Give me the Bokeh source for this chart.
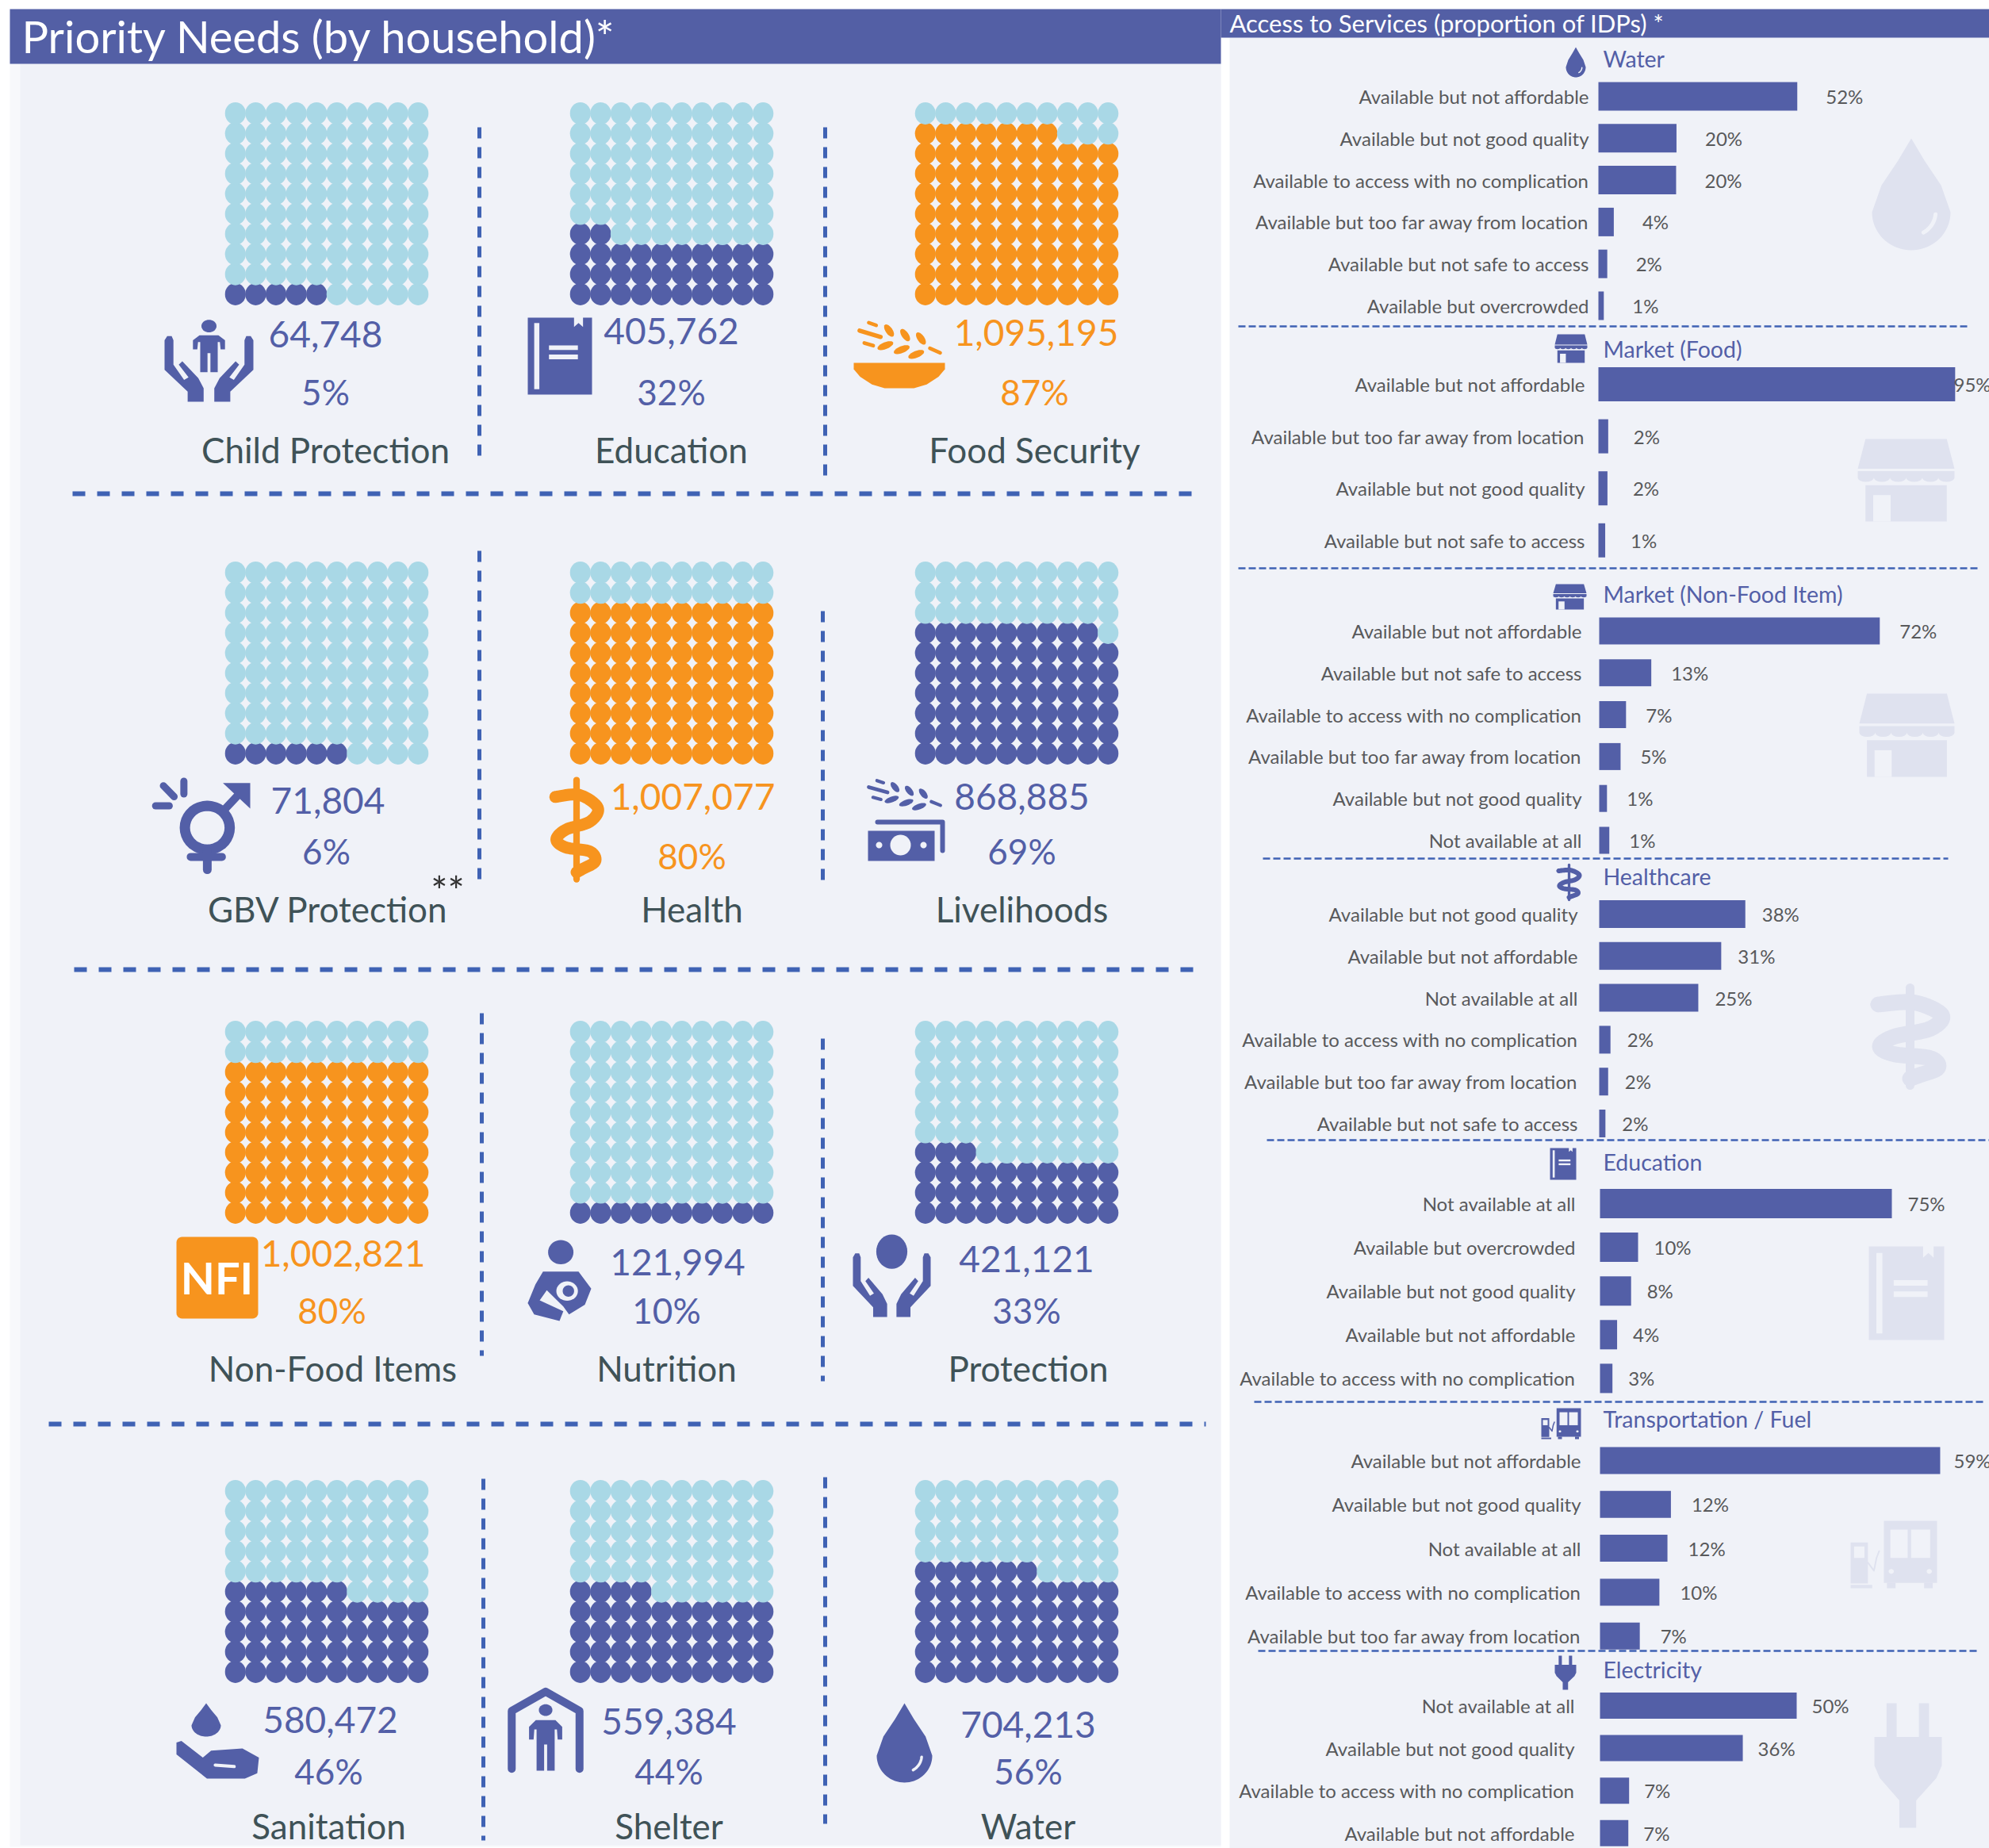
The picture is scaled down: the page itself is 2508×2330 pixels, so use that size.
import math
from bokeh.plotting import figure
from bokeh.models import Range1d
from bokeh.embed import file_html
from bokeh.resources import INLINE
from bokeh.core.properties import value

# ---------------- data ----------------
needs = ["Child Protection", "Education", "Food Security",
         "GBV Protection", "Health", "Livelihoods",
         "Non-Food Items", "Nutrition", "Protection",
         "Sanitation", "Shelter", "Water"]
households = [64748, 405762, 1095195, 71804, 1007077, 868885,
              1002821, 121994, 421121, 580472, 559384, 704213]
need_pct = [5, 32, 87, 6, 80, 69, 80, 10, 33, 46, 44, 56]

service_titles = ["Water", "Market (Food)", "Market (Non-Food Item)", "Healthcare",
                  "Education", "Transportation / Fuel", "Electricity"]
water_cats = ["Available but not affordable", "Available but not good quality",
              "Available to access with no complication", "Available but too far away from location",
              "Available but not safe to access", "Available but overcrowded"]
water_vals = [51.7, 20.3, 20.2, 4.0, 2.3, 1.4]
water_lbls = [52, 20, 20, 4, 2, 1]
food_cats = ["Available but not affordable", "Available but too far away from location",
             "Available but not good quality", "Available but not safe to access"]
food_vals = [94.7, 2.6, 2.4, 1.8]
food_lbls = [95, 2, 2, 1]
nfi_cats = ["Available but not affordable", "Available but not safe to access",
            "Available to access with no complication", "Available but too far away from location",
            "Available but not good quality", "Not available at all"]
nfi_vals = [72.2, 13.4, 6.9, 5.5, 2.0, 2.6]
nfi_lbls = [72, 13, 7, 5, 1, 1]
health_cats = ["Available but not good quality", "Available but not affordable", "Not available at all",
               "Available to access with no complication", "Available but too far away from location",
               "Available but not safe to access"]
health_vals = [37.6, 31.4, 25.5, 2.9, 2.3, 1.6]
health_lbls = [38, 31, 25, 2, 2, 2]
edu_cats = ["Not available at all", "Available but overcrowded", "Available but not good quality",
            "Available but not affordable", "Available to access with no complication"]
edu_vals = [75.1, 9.8, 8.0, 4.4, 3.2]
edu_lbls = [75, 10, 8, 4, 3]
trans_cats = ["Available but not affordable", "Available but not good quality", "Not available at all",
              "Available to access with no complication", "Available but too far away from location"]
trans_vals = [59.0, 12.3, 11.7, 10.3, 6.9]
trans_lbls = [59, 12, 12, 10, 7]
elec_cats = ["Not available at all", "Available but not good quality",
             "Available to access with no complication", "Available but not affordable"]
elec_vals = [50.0, 36.3, 7.4, 7.2]
elec_lbls = [50, 36, 7, 7]

# ---------------- style ----------------
BG = "#F0F2F8"
STRIP = "#F7F8FB"
HEAD = "#535FA5"
NAVY = "#535FA7"
LIGHT = "#A9D8E6"
ORANGE = "#F7941E"
DASH = "#3F62B4"
LABEL = "#3F5257"
GREY = "#58595B"
GHOST = "#DFE2EF"
FONT = value("Lato")

W, H = 2508, 2330
p = figure(width=W, height=H, x_range=Range1d(0, W), y_range=Range1d(H, 0),
           output_backend="svg", toolbar_location=None, min_border=0,
           x_axis_location=None, y_axis_location=None, outline_line_color=None,
           background_fill_color="white", border_fill_color="white")
p.grid.visible = False


def box(x0, y0, x1, y1, c):
    p.quad(left=x0, right=x1, top=y0, bottom=y1, fill_color=c, line_color=None)


def label(x, y, t, size, c, align="center", style="normal"):
    p.text([x], [y], text=[t], text_font=FONT, text_font_size=f"{size}px", text_color=c,
           text_align=align, text_baseline="middle", text_font_style=style)


# ---------------- icon helpers ----------------
def U(x0, y0, w, h):
    return lambda pts: ([x0 + w * a for a, b in pts], [y0 + h * b for a, b in pts])


def fill(T, pts, c):
    xs, ys = T(pts)
    p.patch(xs, ys, fill_color=c, line_color=None)


def stroke(T, pts, c, w):
    xs, ys = T(pts)
    p.line(xs, ys, line_color=c, line_width=w, line_cap="round", line_join="round")


def ell(cx, cy, rx, ry, a0=0, a1=360, n=36):
    return [(cx + rx * math.cos(math.radians(a0 + (a1 - a0) * i / n)),
             cy + ry * math.sin(math.radians(a0 + (a1 - a0) * i / n))) for i in range(n + 1)]


def rect(x0, y0, x1, y1):
    return [(x0, y0), (x1, y0), (x1, y1), (x0, y1)]


def smooth(pts, n=10):
    out = []
    P = [pts[0]] + list(pts) + [pts[-1]]
    for i in range(1, len(P) - 2):
        for k in range(n):
            t = k / n
            q = []
            for d in (0, 1):
                a, b, c, e = P[i - 1][d], P[i][d], P[i + 1][d], P[i + 2][d]
                q.append(0.5 * (2 * b + (c - a) * t + (2 * a - 5 * b + 4 * c - e) * t * t
                                + (3 * b - a - 3 * c + e) * t ** 3))
            out.append(tuple(q))
    out.append(pts[-1])
    return out


def drop(x0, y0, w, h, c, bg):
    T = U(x0, y0, w, h)
    fill(T, [(.5, 0), (.33, .2), (.12, .42)] + ell(.5, .66, .5, .34, 180, 0) + [(.88, .42), (.67, .2)], c)
    stroke(T, ell(.5, .66, .31, .21, 5, 60, 10), bg, max(1.5, w * .05))


def book(x0, y0, w, h, c, bg):
    T = U(x0, y0, w, h)
    fill(T, [(0, 0), (.72, 0), (.72, .12), (.79, .07), (.86, .12), (.86, 0), (1, 0), (1, 1), (0, 1)], c)
    fill(T, rect(.10, .07, .18, .93), bg)
    fill(T, rect(.33, .36, .78, .42), bg)
    fill(T, rect(.33, .48, .78, .54), bg)


def market(x0, y0, w, h, c, bg):
    T = U(x0, y0, w, h)
    fill(T, [(.08, 0), (.92, 0), (1, .36), (0, .36)], c)
    sc = [(1, .39)]
    for i in range(6):
        sc += ell(1 - (i + .5) / 6, .47, 1 / 12, .05, 0, 180, 8)
    fill(T, [(0, .39)] + sc, c)
    fill(T, rect(.08, .56, .92, 1), c)
    fill(T, rect(.16, .68, .34, 1), bg)


def snake(x0, y0, w, h, c, bg, lw):
    T = U(x0, y0, w, h)
    stroke(T, [(.5, 0), (.5, 1)], c, lw * .55)
    stroke(T, smooth([(.1, .17), (.55, .15), (.9, .28), (.75, .42), (.3, .5), (.12, .6),
                      (.3, .68), (.75, .72), (.85, .82), (.6, .9), (.5, .93)]), c, lw)
    fill(T, ell(.09, .17, .09, .055), c)


def bus(x0, y0, w, h, c, bg):
    T = U(x0, y0, w, h)
    fill(T, rect(.385, 0, 1, .92), c)
    fill(T, rect(.46, .13, .66, .55), bg)
    fill(T, rect(.70, .13, .92, .55), bg)
    fill(T, rect(.42, .92, .52, 1), c)
    fill(T, rect(.85, .92, .95, 1), c)
    fill(T, ell(.47, .75, .03, .035), bg)
    fill(T, ell(.91, .75, .03, .035), bg)
    fill(T, rect(0, .32, .2, .93), c)
    fill(T, rect(0, .95, .25, 1), c)
    fill(T, rect(.04, .38, .16, .55), bg)
    stroke(T, [(.2, .62), (.27, .74), (.3, .55), (.33, .45)], c, max(1.5, w * .018))


def plug(x0, y0, w, h, c, bg):
    T = U(x0, y0, w, h)
    fill(T, rect(.18, 0, .33, .3), c)
    fill(T, rect(.66, 0, .81, .3), c)
    fill(T, [(0, .27), (1, .27), (1, .5), (.92, .6), (.62, .78), (.62, 1), (.37, 1), (.37, .78),
             (.08, .6), (0, .5)], c)


def person(T, cx, top, sx, sy, c):
    P = [(-.13, 0), (.13, 0), (.22, .08), (.22, .23), (.16, .23), (.15, .11), (.12, .11), (.12, .6),
         (.02, .6), (.02, .29), (-.02, .29), (-.02, .6), (-.12, .6), (-.12, .11), (-.15, .11),
         (-.16, .23), (-.22, .23), (-.22, .08)]
    fill(T, [(cx + a * sx, top + b * sy) for a, b in P], c)


def hands(T, c):
    L = [(0, .27), (.03, .22), (.08, .22), (.1, .27), (.1, .56), (.22, .74), (.27, .71), (.16, .56),
         (.2, .52), (.38, .72), (.44, .84), (.44, 1), (.26, 1), (.26, .88), (0, .62)]
    fill(T, L, c)
    fill(T, [(1 - a, b) for a, b in L], c)


def wheat(x0, y0, w, h, c):
    T = lambda pts: ([x0 + w * (a - 60) / 325 for a, b in pts], [y0 + h * (b - 68) / 150 for a, b in pts])

    def leaf(cx, cy, ln, wd, ang):
        ca, sa = math.cos(math.radians(ang)), math.sin(math.radians(ang))
        pts = [(cx + ln * math.cos(t) * ca - wd * math.sin(t) * sa,
                cy + ln * math.cos(t) * sa + wd * math.sin(t) * ca)
               for t in [i * math.pi / 12 for i in range(24)]]
        fill(T, pts, c)
    for cx, cy in [(182, 108), (243, 125), (303, 138)]:
        leaf(cx, cy, 27, 13, 55)
    for cx, cy in [(168, 165), (230, 180), (285, 198)]:
        leaf(cx, cy, 32, 13, -22)
    for a, b, wd in [((105, 78), (133, 88), 7), ((70, 108), (150, 132), 8), ((88, 155), (122, 165), 7),
                     ((337, 175), (376, 192), 7)]:
        xs, ys = T([a, b])
        p.line(xs, ys, line_color=c, line_width=wd * w / 325 * 2, line_cap="round")


# ---------------- backgrounds ----------------
box(12, 11, 1539, 2328, STRIP)
box(25, 80, 1539, 2326, BG)
box(1550, 47, 2508, 2330, BG)
box(12, 11, 1539, 80, HEAD)
box(1539, 11, 2508, 47, HEAD)
label(27, 45, "Priority Needs (by household)*", 56, "white", "left")
label(1550, 28, "Access to Services (proportion of IDPs) *", 31, "white", "left")

# ---------------- priority-need tiles ----------------
grid_x = [283.5, 718.5, 1153.5]
grid_y = [128.5, 707.5, 1286.5, 1865.5]
DOT_W, DOT_H, PITCH_X, PITCH_Y = 26.2, 28, 25.6, 25.33
number_xy = [(410, 421), (846, 417), (1306, 419), (413, 1009), (873, 1004), (1288, 1004),
             (432, 1580), (854, 1591), (1294, 1587), (416, 2168), (843, 2170), (1296, 2174)]
pct_xy = [(410, 493), (846, 493), (1304, 493), (411, 1072), (872, 1078), (1288, 1072),
          (418, 1651), (840, 1651), (1294, 1651), (414, 2232), (843, 2232), (1296, 2232)]
name_xy = [(410, 566), (846, 566), (1304, 566), (413, 1145), (872, 1145), (1288, 1145),
           (419, 1724), (840, 1724), (1296, 1724), (414, 2301), (843, 2301), (1296, 2301)]

for i, name in enumerate(needs):
    gx, gy = grid_x[i % 3], grid_y[i // 3]
    fg = ORANGE if need_pct[i] >= 80 else NAVY
    xs, ys, cs = [], [], []
    for k in range(100):
        xs.append(gx + PITCH_X * (k % 10 + .5))
        ys.append(gy + DOT_H / 2 + PITCH_Y * (9 - k // 10))
        cs.append(fg if k < need_pct[i] else LIGHT)
    p.ellipse(x=xs, y=ys, width=DOT_W, height=DOT_H, fill_color=cs, line_color=None)
    label(*number_xy[i], f"{households[i]:,}", 46, fg)
    label(*pct_xy[i], f"{need_pct[i]}%", 44, fg)
    label(*name_xy[i], name, 44, LABEL)

label(564, 1122, "**", 50, "#333333")

# dividers
for x, y0, y1 in [(604, 160, 576), (1040, 160, 600), (604, 694, 1109), (1037, 770, 1115),
                  (607, 1277, 1709), (1037, 1309, 1741), (609, 1864, 2320), (1040, 1862, 2299)]:
    p.line([x, x], [y0, y1], line_color=DASH, line_width=5, line_dash="14 11")
for y, x0, x1 in [(622, 91, 1512), (1222, 93, 1514), (1795, 61, 1520)]:
    p.line([x0, x1], [y, y], line_color=DASH, line_width=6, line_dash="16 15")

# tile icons
T = U(207, 400, 112, 106)
hands(T, NAVY)
fill(T, ell(.5, .1, .085, .075), NAVY)
person(T, .5, .21, .82, .73, NAVY)

book(665, 400, 81, 97, NAVY, BG)

wheat(1080, 403, 108, 50, ORANGE)
fill(U(1076, 457, 115, 32), [(0, 0), (1, 0), (1, .25), (.93, .55), (.8, .85), (.66, 1), (.34, 1), (.2, .85),
                             (.07, .55), (0, .25)], ORANGE)

T = U(192, 981, 123, 115)
stroke(T, ell(.56, .54, .23, .24), NAVY, 13)
stroke(T, [(.56, .8), (.56, 1)], NAVY, 11)
stroke(T, [(.39, .86), (.71, .86)], NAVY, 10)
stroke(T, [(.72, .36), (.93, .12)], NAVY, 10)
fill(T, [(.72, .05), (1, .05), (1, .33)], NAVY)
stroke(T, [(.32, .03), (.32, .17)], NAVY, 9)
stroke(T, [(.11, .08), (.22, .2)], NAVY, 9)
stroke(T, [(.03, .3), (.17, .3)], NAVY, 9)

snake(693, 983, 67, 125, ORANGE, BG, 15)

wheat(1092, 981, 96, 41, NAVY)
stroke(U(1106, 1036, 82, 36), [(0, 0), (1, 0), (1, 1)], NAVY, 6)
box(1094, 1047, 1178, 1085, NAVY)
fill(U(1122, 1052, 26, 26), ell(.5, .5, .5, .5), BG)
fill(U(1104, 1061, 8, 8), ell(.5, .5, .5, .5), BG)
fill(U(1160, 1061, 8, 8), ell(.5, .5, .5, .5), BG)

T = U(222, 1559, 103, 103)
fill(T, ell(.93, .07, .07, .07, -90, 0, 6) + ell(.93, .93, .07, .07, 0, 90, 6)
     + ell(.07, .93, .07, .07, 90, 180, 6) + ell(.07, .07, .07, .07, 180, 270, 6), ORANGE)
label(273, 1610, "NFI", 56, "white", style="bold")

T = U(665, 1563, 80, 102)
fill(T, ell(.52, .15, .2, .15), NAVY)
fill(T, [(.24, .39), (.8, .39), (1, .6), (.9, .8), (.65, .92), (.56, .82), (.3, .62), (.12, .82), (0, .78), (.12, .55)], NAVY)
fill(T, [(0, .78), (.12, .72), (.56, .88), (.5, 1), (.1, .92)], NAVY)
fill(T, ell(.62, .63, .17, .12), BG)
fill(T, ell(.64, .63, .09, .07), NAVY)

T = U(1075, 1557, 98, 103)
hands(T, NAVY)
fill(T, ell(.5, .2, .2, .21), NAVY)

T = U(222, 2147, 104, 95)
drop(241, 2147, 37, 42, NAVY, NAVY)
fill(T, [(.0, .52), (.06, .5), (.32, .72), (.42, .63), (.8, .6), (1, .72), (.98, .93), (.83, 1),
         (.37, 1), (0, .68)], NAVY)
stroke(T, [(.47, .82), (.7, .84)], BG, 4)

T = U(640, 2127, 95, 106)
stroke(T, [(.05, .97), (.05, .28), (.5, .05), (.95, .28), (.95, .97)], NAVY, 10)
fill(T, ell(.5, .27, .09, .07), NAVY)
person(T, .5, .39, 1, 1, NAVY)

drop(1105, 2147, 70, 100, NAVY, BG)

# ---------------- services panel ----------------
sections = [
    (water_cats, water_vals, water_lbls),
    (food_cats, food_vals, food_lbls),
    (nfi_cats, nfi_vals, nfi_lbls),
    (health_cats, health_vals, health_lbls),
    (edu_cats, edu_vals, edu_lbls),
    (trans_cats, trans_vals, trans_lbls),
    (elec_cats, elec_vals, elec_lbls),
]
# layout: title y, first bar y, row pitch, bar height, px per %, label right edge, value gap, bar base
layout = [
    (73, 121, 52.8, 36, 4.85, 2003, 36, 2015),
    (439, 484, 65.6, 43, 4.75, 1998, 32, 2015),
    (748, 795, 52.8, 34, 4.90, 1994, 25, 2016),
    (1104, 1152, 52.8, 35, 4.90, 1989, 21, 2016),
    (1464, 1517, 55.1, 37, 4.90, 1986, 20, 2017),
    (1788, 1841, 55.3, 34, 7.27, 1993, 26, 2017),
    (2104, 2150, 53.6, 33, 4.96, 1985, 19, 2017),
]
separators = [(411, 1561, 2484), (716, 1561, 2496), (1082, 1592, 2456), (1437, 1597, 2508),
              (1767, 1581, 2503), (2081, 1586, 2496)]

# faint watermarks first, so that bars and texts sit on top
drop(2360, 174, 99, 141, GHOST, BG)
market(2342, 553, 122, 104, GHOST, BG)
market(2344, 874, 120, 105, GHOST, BG)
snake(2358, 1245, 100, 123, GHOST, BG, 20)
book(2356, 1571, 95, 118, GHOST, BG)
bus(2333, 1917, 109, 85, GHOST, BG)
plug(2363, 2147, 85, 157, GHOST, BG)

for y, x0, x1 in separators:
    p.line([x0, x1], [y, y], line_color=DASH, line_width=2.5, line_dash="9 4")

for title, (cats, vals, lbls), (ty, y0, dy, bh, sc, lr, gap, base) in zip(service_titles, sections, layout):
    label(2021, ty, title, 28.5, NAVY, "left")
    ys = [y0 + dy * i for i in range(len(cats))]
    rights = [base + v * sc for v in vals]
    p.hbar(y=ys, left=base, right=rights, height=bh, fill_color=NAVY, line_color=None)
    p.text([lr] * len(cats), ys, text=cats, text_font=FONT, text_font_size="24px", text_color=GREY,
           text_align="right", text_baseline="middle")
    p.text([min(r + gap, 2463) for r in rights], ys, text=[f"{v}%" for v in lbls], text_font=FONT,
           text_font_size="24px", text_color=GREY, text_align="left", text_baseline="middle")

drop(1974, 59, 25, 38, NAVY, BG)
market(1960, 421, 41, 36, NAVY, BG)
market(1958, 736, 42, 32, NAVY, BG)
snake(1962, 1090, 32, 44, NAVY, BG, 6)
book(1954, 1447, 33, 40, NAVY, BG)
bus(1943, 1775, 50, 39, NAVY, BG)
plug(1960, 2087, 27, 43, NAVY, BG)

open("out.html", "w").write(file_html(p, INLINE))
